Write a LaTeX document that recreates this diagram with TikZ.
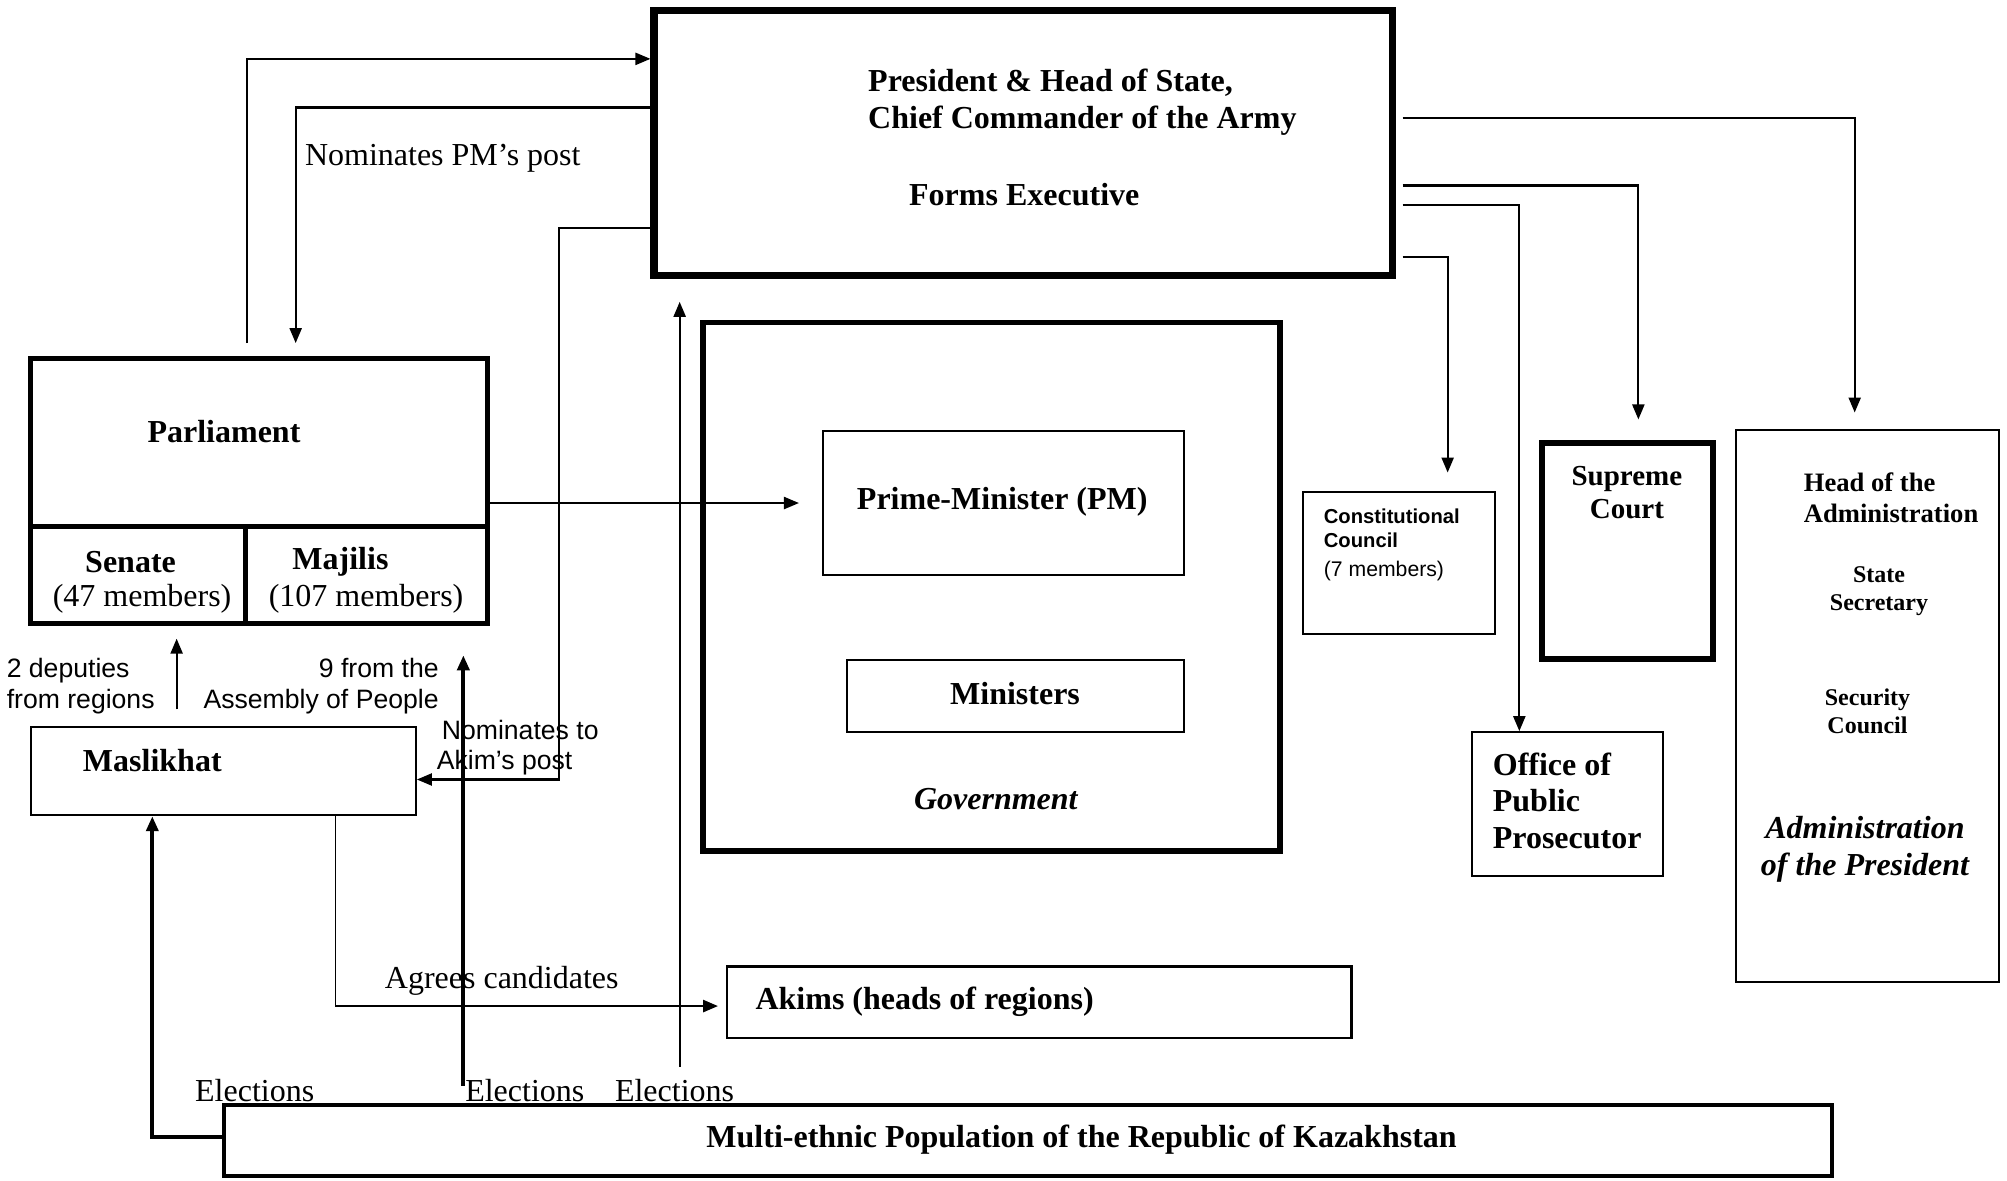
\documentclass[tikz,border=0pt]{standalone}
\usepackage{fontspec}
\setmainfont{Liberation Serif}
\setsansfont{Liberation Sans}
\usetikzlibrary{arrows.meta,fit,calc}
\tikzset{
  box/.style={draw, line width=1pt, inner sep=0pt},
  thickbox/.style={draw, line width=2.9pt, inner sep=0pt},
  tt/.style={inner sep=0pt, yshift=-1.3pt},
  txt/.style={tt, font=\fontsize{16}{18.6}\selectfont},
  btxt/.style={tt, font=\fontsize{16}{18.6}\selectfont\bfseries},
  bitxt/.style={tt, font=\fontsize{16}{18.6}\selectfont\bfseries\itshape},
  stxt/.style={tt, font=\sffamily\fontsize{13.3}{15.4}\selectfont},
  conn/.style={line width=1.1pt},
  arr/.style={conn, -{Triangle[length=7.5pt,width=6pt]}},
}
\begin{document}
\begin{tikzpicture}[x=0.64pt,y=-0.64pt]
\useasboundingbox (0,0) rectangle (1568,922);

% helper coordinates
\foreach \v in {119,138,193,231,262,362,437,531,1131,1187,1280,1449}{\coordinate (v\v) at (\v,0);}
\foreach \h in {46,84,92,145,160,178,201,393,609,786,888}{\coordinate (h\h) at (0,\h);}

% boxes
\node[thickbox, line width=3.6pt, fit={(511,8) (1088,215)}] (pres) {};
\node[thickbox, line width=2.5pt, fit={(24,280) (381,411)}] (parl) {};
\node[thickbox, line width=2.5pt, fit={(24,411) (192,487)}] (senate) {};
\node[thickbox, line width=2.5pt, fit={(192,411) (381,487)}] (majilis) {};
\node[thickbox, fit={(549,252) (1000,665)}] (gov) {};
\node[box, fit={(643,337) (925,449)}] (pm) {};
\node[box, fit={(662,516) (925,572)}] (min) {};
\node[box, fit={(1018,384) (1168,495)}] (cc) {};
\node[thickbox, fit={(1205,346) (1338,515)}] (sc) {};
\node[box, fit={(1150,572) (1299,684)}] (opp) {};
\node[box, line width=0.9pt, fit={(1356,336) (1562,767)}] (adm) {};
\node[box, line width=0.9pt, fit={(24,568) (325,637)}] (masl) {};
\node[box, line width=1.3pt, fit={(568,755) (1056,811)}] (akims) {};
\node[thickbox, line width=2.1pt, fit={(175,863) (1431,919)}] (pop) {};

% texts
\node[btxt, anchor=west, align=left] (tpres) at (678,77.5) {President \& Head of State,\\Chief Commander of the Army};
\node[btxt, anchor=west] (tforms) at (710,150) {Forms Executive};
\node[txt, anchor=west] (tnompm) at (238,122) {Nominates PM’s post};
\node[btxt] (tparl) at (175,335) {Parliament};
\node[btxt] (tsen) at (102,437) {Senate};
\node[txt] (tsenm) at (111,466) {(47 members)};
\node[btxt] (tmaj) at (266,437) {Majilis};
\node[txt] (tmajm) at (286,466) {(107 members)};
\node[stxt, anchor=west, align=left] (tdep) at (5,534) {2 deputies\\from regions};
\node[stxt, anchor=east, align=right] (tnine) at (343,534) {9 from the\\Assembly of People};
\node[stxt, anchor=west, align=left] (takim) at (341,582) {\hspace*{2.5pt}Nominates to\\Akim’s post};
\node[btxt] (tmasl) at (119,592) {Maslikhat};
\node[btxt] (tpm) at (783,390) {Prime-Minister (PM)};
\node[btxt] (tmin) at (793,540) {Ministers};
\node[bitxt] (tgov) at (778,622) {Government};
\node[tt, anchor=west, align=left, font=\sffamily\bfseries\fontsize{10.1}{12.2}\selectfont] (tcc) at (1034,410.5) {Constitutional\\Council};
\node[tt, anchor=west, font=\sffamily\fontsize{10.6}{12}\selectfont] (tccm) at (1034,444) {(7 members)};
\node[tt, align=center, font=\bfseries\fontsize{14.5}{16.6}\selectfont] (tsc) at (1271,383) {Supreme\\Court};
\node[tt, anchor=west, align=left, font=\bfseries\fontsize{16}{18.2}\selectfont] (topp) at (1166,623.5) {Office of\\Public\\Prosecutor};
\node[tt, anchor=west, align=left, font=\bfseries\fontsize{13.3}{15.4}\selectfont] (thead) at (1409,387) {Head of the\\Administration};
\node[tt, align=center, font=\bfseries\fontsize{12}{14}\selectfont] (tss) at (1468,460) {State\\Secretary};
\node[tt, align=center, font=\bfseries\fontsize{12}{14}\selectfont] (tsec) at (1459,554) {Security\\Council};
\node[bitxt, align=center] (tadm) at (1457,661.5) {Administration\\of the President};
\node[btxt, anchor=west] (takims) at (590,781) {Akims (heads of regions)};
\node[btxt] (tpop) at (845,888) {Multi-ethnic Population of the Republic of Kazakhstan};
\node[txt] (tel1) at (199,850) {Elections};
\node[txt] (tel2) at (410,850) {Elections};
\node[txt] (tel3) at (527,850) {Elections};
\node[txt] (tagr) at (392,764) {Agrees candidates};

% connectors
\draw[arr] ($(parl.north -| v193)+(0,-10)$) |- (pres.west |- h46);
\draw[arr] (pres.west |- h84) -| ($(parl.north -| v231)+(0,-10)$);
\draw[arr] (pres.west |- h178) -| (h609 -| v437) -- (masl.east |- h609);
\draw[arr] (parl.east |- h393) -- ($(pm.west |- h393)+(-18,0)$);
\draw[arr] ($(pop.north -| v531)+(0,-28)$) -- ($(pres.south -| v531)+(0,18)$);
\draw[arr, line width=1.9pt] ($(pop.north -| v362)+(0,-13)$) -- ($(majilis.south -| v362)+(0,23)$);
\draw[arr] ($(masl.north -| v138)+(0,-13)$) -- ($(senate.south -| v138)+(0,10)$);
\draw[arr, line width=1.9pt] (pop.west |- h888) -| (masl.south -| v119);
\draw[conn, line width=0.7pt] (masl.south -| v262) -- (h786 -| v262);
\draw[arr, line width=1.3pt] (h786 -| v262) -- ($(akims.west |- h786)+(-6,0)$);
\draw[arr] ($(pres.east |- h92)+(5,0)$) -| ($(adm.north -| v1449)+(0,-13)$);
\draw[arr] ($(pres.east |- h145)+(5,0)$) -| ($(sc.north -| v1280)+(0,-16)$);
\draw[arr] ($(pres.east |- h160)+(5,0)$) -| (opp.north -| v1187);
\draw[arr] ($(pres.east |- h201)+(5,0)$) -| ($(cc.north -| v1131)+(0,-14)$);
\end{tikzpicture}
\end{document}
